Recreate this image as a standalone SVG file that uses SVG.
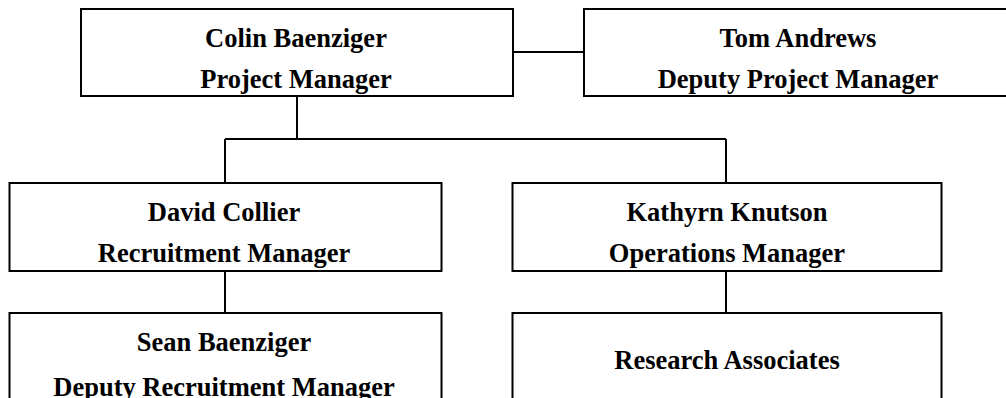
<svg xmlns="http://www.w3.org/2000/svg" width="1006" height="398" viewBox="0 0 1006 398">
<style>
.box{fill:#fff;stroke:#000;stroke-width:2}
.ln{fill:none;stroke:#000;stroke-width:2}
text{font-family:"Liberation Serif","Times New Roman",serif;font-weight:bold;font-size:26.5px;fill:#000;text-anchor:middle}
</style>
<rect width="1006" height="398" fill="#fff"/>
<g id="connectors">
<path class="ln" d="M513 52H584"/>
<path class="ln" d="M297 96V139"/>
<path class="ln" d="M225 139H726"/>
<path class="ln" d="M225 139V183"/>
<path class="ln" d="M726 139V183"/>
<path class="ln" d="M225 271V313"/>
<path class="ln" d="M726 271V313"/>
</g>
<g id="colin">
<rect class="box" x="81" y="9" width="432" height="87"/>
<text x="296" y="46.5">Colin Baenziger</text>
<text x="296" y="88">Project Manager</text>
</g>
<g id="tom">
<rect class="box" x="584" y="9" width="430" height="87"/>
<text x="798" y="46.5">Tom Andrews</text>
<text x="798" y="88">Deputy Project Manager</text>
</g>
<g id="david">
<rect class="box" x="9.5" y="183" width="432" height="88"/>
<text x="224" y="220.5">David Collier</text>
<text x="224" y="262">Recruitment Manager</text>
</g>
<g id="kathyrn">
<rect class="box" x="512.5" y="183" width="429" height="88"/>
<text x="727" y="220.5">Kathyrn Knutson</text>
<text x="727" y="262">Operations Manager</text>
</g>
<g id="sean">
<rect class="box" x="9.5" y="313" width="432" height="100"/>
<text x="224" y="351">Sean Baenziger</text>
<text x="224" y="396">Deputy Recruitment Manager</text>
</g>
<g id="research">
<rect class="box" x="512.5" y="313" width="429" height="100"/>
<text x="727" y="369">Research Associates</text>
</g>
</svg>
